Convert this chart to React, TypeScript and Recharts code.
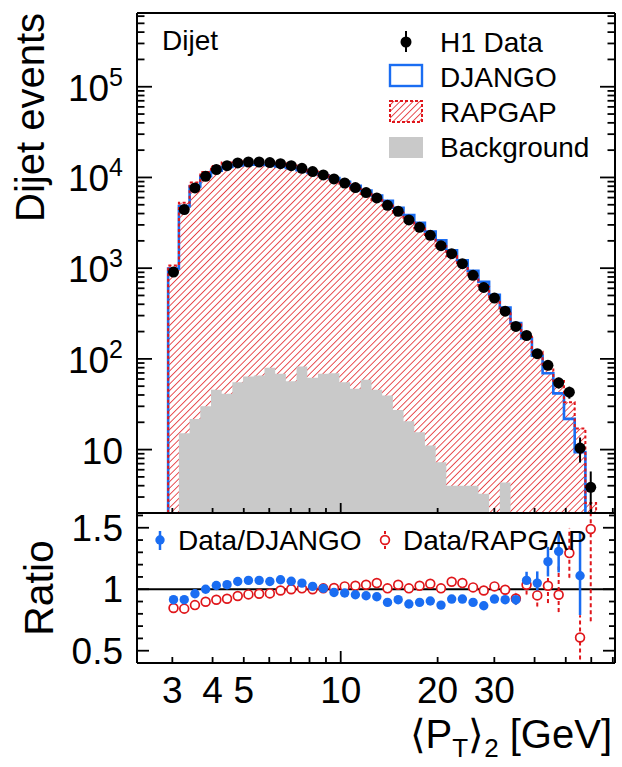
import React from 'react';
import {
  ComposedChart, Area, Line, Scatter, XAxis, YAxis, ErrorBar, ReferenceLine, Legend
} from 'recharts';

const FONT = '"Liberation Sans", Arial, Helvetica, sans-serif';
const BLUE = '#1a6df2';
const RED = '#e0161b';
const GREY = '#c9c9c9';

// log-spaced bin edges of <P_T>_2 in GeV (40 bins)
const binEdges = [
  2.911, 3.144, 3.394, 3.664, 3.955, 4.269, 4.609, 4.975, 5.371, 5.798,
  6.259, 6.756, 7.294, 7.873, 8.499, 9.175, 9.904, 10.69, 11.54, 12.46,
  13.45, 14.52, 15.67, 16.92, 18.26, 19.72, 21.28, 22.98, 24.80, 26.77,
  28.90, 31.20, 33.68, 36.36, 39.25, 42.37, 45.74, 49.37, 53.30, 57.53, 62.11,
];

// H1 data (events per bin) and its uncertainty
const h1Data = [
  906, 4420, 7660, 10300, 12200, 13500, 14450, 14800, 14800, 14600,
  14200, 13500, 12600, 11600, 10650, 9630, 8690, 7740, 6810, 5940,
  4930, 4240, 3400, 2820, 2300, 1770, 1445, 1120, 833, 614,
  468, 336, 228, 181, 114, 85, 54.5, 42.9, 10.4, 3.84,
];
const h1Err = [
  30, 66, 88, 100, 110, 116, 120, 122, 122, 121,
  119, 116, 112, 108, 103, 98, 93, 88, 83, 77,
  70, 65, 58, 53, 48, 42, 38, 33, 29, 25,
  22, 18, 15, 13, 11, 9, 7.5, 6.5, 3.2, 1.9,
];

// MC predictions
const djangoMC = [
  990, 4830, 7950, 10300, 11860, 13040, 13590, 13830, 13830, 13720,
  13200, 12700, 12030, 11350, 10590, 9880, 8970, 8100, 7190, 6330,
  5520, 4630, 3860, 3160, 2540, 2030, 1570, 1220, 933, 709,
  509, 367, 249, 169, 108.6, 69.5, 41.7, 21.8, 9.37, 0,
];
const rapgapMC = [
  1070, 5250, 8790, 11480, 13360, 14650, 15290, 15480, 15400, 15100,
  14360, 13520, 12540, 11610, 10590, 9530, 8500, 7530, 6570, 5660,
  4900, 4090, 3370, 2740, 2200, 1760, 1360, 1070, 821, 620,
  457, 337, 246, 175, 120, 82.8, 57.1, 33.2, 17.1, 2.58,
];
const backgroundMC = [
  0, 15.1, 21.8, 30.1, 45.6, 41.2, 55.3, 64, 65.6, 79.8,
  68.5, 56.8, 82.5, 61.8, 68.5, 69.5, 55.3, 46.8, 58.8, 45.6,
  39.5, 27.4, 20.5, 15.5, 11.1, 7.24, 4.0, 4.0, 4.0, 3.25,
  0, 4.35, 0, 0, 0, 0, 0, 0, 0, 0,
];

// ratios (null = outside the ratio window / no prediction)
const ratioDjango = [
  0.915, 0.915, 0.963, 1.0, 1.03, 1.037, 1.063, 1.072, 1.072, 1.063,
  1.077, 1.065, 1.05, 1.023, 1.007, 0.974, 0.969, 0.955, 0.947, 0.939,
  0.893, 0.915, 0.88, 0.893, 0.904, 0.871, 0.92, 0.92, 0.893, 0.866,
  0.92, 0.915, 0.915, 1.072, 1.05, 1.224, 1.307, null, 1.11, null,
];
const ratioDjangoErr = [
  [0.01, 0.01], [0.01, 0.01], [0.01, 0.01], [0.01, 0.01], [0.01, 0.01],
  [0.01, 0.01], [0.01, 0.01], [0.01, 0.01], [0.01, 0.01], [0.01, 0.01],
  [0.01, 0.01], [0.01, 0.01], [0.01, 0.01], [0.01, 0.01], [0.01, 0.01],
  [0.01, 0.01], [0.01, 0.01], [0.01, 0.01], [0.01, 0.01], [0.01, 0.01],
  [0.012, 0.012], [0.012, 0.012], [0.012, 0.012], [0.013, 0.013], [0.014, 0.014],
  [0.015, 0.015], [0.016, 0.016], [0.018, 0.018], [0.02, 0.02], [0.022, 0.022],
  [0.025, 0.025], [0.03, 0.03], [0.04, 0.04], [0.07, 0.07], [0.095, 0.095],
  [0.12, 0.12], [0.17, 0.15], [0, 0], [0.32, 0.35], [0, 0],
];
const ratioRapgap = [
  0.847, 0.842, 0.871, 0.898, 0.915, 0.923, 0.945, 0.958, 0.963, 0.966,
  0.99, 1.0, 1.007, 1.0, 1.007, 1.01, 1.023, 1.028, 1.037, 1.05,
  1.007, 1.037, 1.007, 1.028, 1.045, 1.007, 1.061, 1.05, 1.015, 0.99,
  1.023, 0.996, 0.925, 1.037, 0.95, 1.028, 0.955, 1.294, 0.608, 1.49,
];
const ratioRapgapErr = [
  [0.01, 0.01], [0.01, 0.01], [0.01, 0.01], [0.01, 0.01], [0.01, 0.01],
  [0.01, 0.01], [0.01, 0.01], [0.01, 0.01], [0.01, 0.01], [0.01, 0.01],
  [0.01, 0.01], [0.01, 0.01], [0.01, 0.01], [0.01, 0.01], [0.01, 0.01],
  [0.01, 0.01], [0.01, 0.01], [0.01, 0.01], [0.01, 0.01], [0.01, 0.01],
  [0.012, 0.012], [0.012, 0.012], [0.012, 0.012], [0.013, 0.013], [0.014, 0.014],
  [0.015, 0.015], [0.016, 0.016], [0.018, 0.018], [0.02, 0.02], [0.022, 0.022],
  [0.025, 0.025], [0.03, 0.03], [0.05, 0.05], [0.08, 0.08], [0.09, 0.09],
  [0.14, 0.14], [0.14, 0.23], [0.2, 0.2], [0.18, 0.18], [0.75, 0.42],
];

// axes
const X_DOMAIN: [number, number] = [2.33, 71.1];
const Y_DOMAIN: [number, number] = [2, 6.5e5];
const R_DOMAIN: [number, number] = [0.4, 1.62];
const xTickValues = [3, 4, 5, 6, 7, 8, 9, 10, 20, 30, 40, 50, 60, 70];
const xTickLabels = [3, 4, 5, 10, 20, 30];
const xMajorTicks = [10];
const yDecades = [1, 10, 100, 1000, 10000, 100000];
const yLabelledDecades = [10, 100, 1000, 10000, 100000];
const ratioTickValues = [0.5, 0.6, 0.7, 0.8, 0.9, 1, 1.1, 1.2, 1.3, 1.4, 1.5, 1.6];
const ratioTickLabels = [0.5, 1, 1.5];

const yTickValues: number[] = [];
yDecades.forEach(d => {
  for (let m = 1; m <= 9; m++) {
    const v = m * d;
    if (v >= Y_DOMAIN[0] && v <= Y_DOMAIN[1]) yTickValues.push(v);
  }
});

const near = (list: number[], v: number) => list.some(t => Math.abs(t - v) < 1e-6 * Math.max(1, t));

// empty bins are pushed below the frame and clipped away
const FLOOR = 1;
const binCenters = binEdges.slice(0, -1).map((e, i) => Math.sqrt(e * binEdges[i + 1]));

const histPoints = (vals: number[]) => {
  const pts = [{ x: binEdges[0], y: FLOOR }];
  vals.forEach((v, i) => pts.push({ x: binEdges[i], y: v > 0 ? v : FLOOR }));
  const last = vals[vals.length - 1];
  pts.push({ x: binEdges[vals.length], y: last > 0 ? last : FLOOR });
  pts.push({ x: binEdges[vals.length], y: FLOOR });
  return pts;
};

const djangoHist = histPoints(djangoMC);
const rapgapHist = histPoints(rapgapMC);
const bkgHist = histPoints(backgroundMC);
const dataPoints = h1Data.map((y, i) => ({ x: binCenters[i], y, err: h1Err[i] }));

const ratioPoints = (vals: (number | null)[], errs: number[][]) =>
  vals
    .map((y, i) => ({ x: binCenters[i], y, err: errs[i] }))
    .filter(p => p.y !== null);

const djangoRatioPts = ratioPoints(ratioDjango, ratioDjangoErr);
const rapgapRatioPts = ratioPoints(ratioRapgap, ratioRapgapErr);

// ROOT-like inward ticks, drawn from the axis' own tick positions
type TickCfg = {
  side: 'left' | 'right' | 'bottom';
  isMajor: (v: number) => boolean;
  majorLen: number;
  minorLen: number;
  label?: (v: number, x: number, y: number) => React.ReactNode;
};

const makeTick = (cfg: TickCfg) => (props: any) => {
  const { x, y, payload } = props;
  const v = payload.value;
  const len = cfg.isMajor(v) ? cfg.majorLen : cfg.minorLen;
  let x2 = x, y2 = y;
  if (cfg.side === 'left') x2 = x + len;
  else if (cfg.side === 'right') x2 = x - len;
  else y2 = y - len;
  return (
    <g>
      <line x1={x} y1={y} x2={x2} y2={y2} stroke="#000" strokeWidth={1.8} />
      {cfg.label ? cfg.label(v, x, y) : null}
    </g>
  );
};

const logLabel = (v: number, x: number, y: number) => {
  if (!near(yLabelledDecades, v)) return null;
  const n = Math.round(Math.log10(v));
  return (
    <text x={x - 14} y={y + 14} textAnchor="end" fontSize={37} fontFamily={FONT} fill="#000">
      10{n > 1 && <tspan fontSize={25} dy={-15}>{n}</tspan>}
    </text>
  );
};

const ratioLabel = (v: number, x: number, y: number) =>
  near(ratioTickLabels, v) ? (
    <text x={x - 14} y={y + 13} textAnchor="end" fontSize={37} fontFamily={FONT} fill="#000">{v}</text>
  ) : null;

const xLabel = (v: number, x: number, y: number) =>
  near(xTickLabels, v) ? (
    <text x={x} y={y + 40} textAnchor="middle" fontSize={37} fontFamily={FONT} fill="#000">{v}</text>
  ) : null;

const isDecade = (v: number) => Math.abs(Math.log10(v) - Math.round(Math.log10(v))) < 1e-9;

const frame = { stroke: '#000', strokeWidth: 2 };

const blackDot = (p: any) => <circle cx={p.cx} cy={p.cy} r={5.5} fill="#000" />;
const blueDot = (p: any) => <circle cx={p.cx} cy={p.cy} r={4.7} fill={BLUE} />;
const redRing = (p: any) => <circle cx={p.cx} cy={p.cy} r={4.4} fill="#fff" stroke={RED} strokeWidth={1.7} />;

const TopLegend = () => (
  <svg width={622} height={514} style={{ display: 'block' }}>
    <g fontFamily={FONT} fontSize={28} fill="#000">
      <text x={162} y={50}>Dijet</text>
      <line x1={406} y1={31} x2={406} y2={52} stroke="#000" strokeWidth={2} />
      <circle cx={406} cy={42} r={5.5} fill="#000" />
      <text x={440} y={52}>H1 Data</text>
      <rect x={390} y={65} width={32} height={21} fill="none" stroke={BLUE} strokeWidth={2.4} />
      <text x={440} y={87}>DJANGO</text>
      <rect x={390} y={101} width={32} height={21} fill="url(#rapHatch)" stroke={RED} strokeWidth={2} strokeDasharray="3 2" />
      <text x={440} y={122}>RAPGAP</text>
      <rect x={389} y={137} width={34} height={21} fill={GREY} />
      <text x={440} y={157}>Background</text>
    </g>
  </svg>
);

const RatioLegend = () => (
  <svg width={622} height={264} style={{ display: 'block' }}>
    <g fontFamily={FONT} fontSize={28} fill="#000">
      <line x1={160} y1={28} x2={160} y2={47} stroke={BLUE} strokeWidth={2.5} />
      <circle cx={160} cy={37} r={4.7} fill={BLUE} />
      <text x={178} y={47}>Data/DJANGO</text>
      <line x1={385} y1={28} x2={385} y2={47} stroke={RED} strokeWidth={2} strokeDasharray="3 2" />
      <circle cx={385} cy={37} r={4.4} fill="#fff" stroke={RED} strokeWidth={1.7} />
      <text x={403} y={47}>Data/RAPGAP</text>
    </g>
  </svg>
);

// frame axes need a non-zero size, otherwise Recharts skips drawing them
const TopChart = () => (
  <ComposedChart width={622} height={514} margin={{ top: 12, right: 6, bottom: 0, left: 0 }}>
    <defs>
      <pattern id="rapHatch" patternUnits="userSpaceOnUse" width={4.6} height={4.6} patternTransform="rotate(45)">
        <line x1={0} y1={0} x2={0} y2={4.6} stroke={RED} strokeWidth={1.5} />
      </pattern>
    </defs>
    <XAxis
      xAxisId="b" dataKey="x" type="number" scale="log" domain={X_DOMAIN} allowDataOverflow
      ticks={xTickValues} interval={0} height={1} tickSize={0} tickMargin={0} tickLine={false}
      axisLine={frame}
      tick={makeTick({ side: 'bottom', isMajor: v => near(xMajorTicks, v), majorLen: 10, minorLen: 5 })}
    />
    <XAxis
      xAxisId="t" orientation="top" dataKey="x" type="number" scale="log" domain={X_DOMAIN}
      allowDataOverflow height={1} tick={false} tickLine={false} axisLine={frame}
    />
    <YAxis
      yAxisId="l" type="number" scale="log" domain={Y_DOMAIN} allowDataOverflow width={137}
      ticks={yTickValues} interval={0} tickSize={0} tickMargin={0} tickLine={false} axisLine={frame}
      tick={makeTick({ side: 'left', isMajor: isDecade, majorLen: 15, minorLen: 7.5, label: logLabel })}
      label={{
        content: (p: any) => (
          <text
            x={44} y={p.viewBox.y} transform={`rotate(-90 44 ${p.viewBox.y})`}
            textAnchor="end" fontSize={40} fontFamily={FONT} fill="#000"
          >Dijet events</text>
        ),
      }}
    />
    <YAxis
      yAxisId="r" orientation="right" type="number" scale="log" domain={Y_DOMAIN} allowDataOverflow
      width={1} ticks={yTickValues} interval={0} tickSize={0} tickMargin={0} tickLine={false} axisLine={frame}
      tick={makeTick({ side: 'right', isMajor: isDecade, majorLen: 15, minorLen: 7.5 })}
    />
    <Area
      data={rapgapHist} dataKey="y" type="stepAfter" xAxisId="b" yAxisId="l"
      baseValue={Y_DOMAIN[0]} stroke="none" fill="url(#rapHatch)" fillOpacity={1}
      dot={false} activeDot={false} isAnimationActive={false}
    />
    <Area
      data={bkgHist} dataKey="y" type="stepAfter" xAxisId="b" yAxisId="l"
      baseValue={Y_DOMAIN[0]} stroke="none" fill={GREY} fillOpacity={1}
      dot={false} activeDot={false} isAnimationActive={false}
    />
    <Line
      data={djangoHist} dataKey="y" type="stepAfter" xAxisId="b" yAxisId="l"
      stroke={BLUE} strokeWidth={2.6} dot={false} activeDot={false} isAnimationActive={false}
    />
    <Line
      data={rapgapHist} dataKey="y" type="stepAfter" xAxisId="b" yAxisId="l"
      stroke={RED} strokeWidth={2} strokeDasharray="3 2.5" dot={false} activeDot={false} isAnimationActive={false}
    />
    {/* invisible copy so the top and right frame axes get registered */}
    <Line
      data={dataPoints} dataKey="y" xAxisId="t" yAxisId="r" stroke="none"
      dot={false} activeDot={false} legendType="none" isAnimationActive={false}
    />
    <Scatter data={dataPoints} dataKey="y" xAxisId="b" yAxisId="l" shape={blackDot} isAnimationActive={false}>
      <ErrorBar dataKey="err" direction="y" width={0} stroke="#000" strokeWidth={2} />
    </Scatter>
    <Legend
      layout="horizontal" verticalAlign="middle" align="center"
      wrapperStyle={{ left: 0, top: 0, width: 622, height: 514 }}
      content={() => <TopLegend />}
    />
  </ComposedChart>
);

const RatioChart = () => (
  <ComposedChart width={622} height={264} margin={{ top: 9, right: 6, bottom: 0, left: 0 }}>
    <XAxis
      xAxisId="b" dataKey="x" type="number" scale="log" domain={X_DOMAIN} allowDataOverflow
      ticks={xTickValues} interval={0} height={104} tickSize={0} tickMargin={0} tickLine={false}
      axisLine={frame}
      tick={makeTick({ side: 'bottom', isMajor: v => near(xMajorTicks, v), majorLen: 12, minorLen: 6, label: xLabel })}
      label={{
        content: (p: any) => {
          const vb = p.viewBox;
          return (
            <text x={vb.x + vb.width - 3} y={vb.y + 85} textAnchor="end" fontSize={40} fontFamily={FONT} fill="#000">
              {'\u27E8P'}
              <tspan fontSize={26} dy={9}>T</tspan>
              <tspan dy={-9}>{'\u27E9'}</tspan>
              <tspan fontSize={26} dy={9}>2</tspan>
              <tspan dy={-9}> [GeV]</tspan>
            </text>
          );
        },
      }}
    />
    <XAxis
      xAxisId="t" orientation="top" dataKey="x" type="number" scale="log" domain={X_DOMAIN}
      allowDataOverflow height={1} tick={false} tickLine={false} axisLine={frame}
    />
    <YAxis
      yAxisId="l" type="number" domain={R_DOMAIN} allowDataOverflow width={137}
      ticks={ratioTickValues} interval={0} tickSize={0} tickMargin={0} tickLine={false} axisLine={frame}
      tick={makeTick({ side: 'left', isMajor: v => near(ratioTickLabels, v), majorLen: 12, minorLen: 6, label: ratioLabel })}
      label={{
        content: (p: any) => {
          const cy = p.viewBox.y + p.viewBox.height / 2;
          return (
            <text
              x={53} y={cy} transform={`rotate(-90 53 ${cy})`}
              textAnchor="middle" fontSize={41} fontFamily={FONT} fill="#000"
            >Ratio</text>
          );
        },
      }}
    />
    <YAxis
      yAxisId="r" orientation="right" type="number" domain={R_DOMAIN} allowDataOverflow width={1}
      ticks={ratioTickValues} interval={0} tickSize={0} tickMargin={0} tickLine={false} axisLine={frame}
      tick={makeTick({ side: 'right', isMajor: v => near(ratioTickLabels, v), majorLen: 12, minorLen: 6 })}
    />
    <ReferenceLine y={1} xAxisId="b" yAxisId="l" stroke="#000" strokeWidth={2} />
    {/* invisible copy so the top and right frame axes get registered */}
    <Line
      data={rapgapRatioPts} dataKey="y" xAxisId="t" yAxisId="r" stroke="none"
      dot={false} activeDot={false} legendType="none" isAnimationActive={false}
    />
    <Scatter data={rapgapRatioPts} dataKey="y" xAxisId="b" yAxisId="l" shape={redRing} isAnimationActive={false}>
      <ErrorBar dataKey="err" direction="y" width={0} stroke={RED} strokeWidth={2} strokeDasharray="4 3" />
    </Scatter>
    <Scatter data={djangoRatioPts} dataKey="y" xAxisId="b" yAxisId="l" shape={blueDot} isAnimationActive={false}>
      <ErrorBar dataKey="err" direction="y" width={0} stroke={BLUE} strokeWidth={2.5} />
    </Scatter>
    <Legend
      layout="horizontal" verticalAlign="middle" align="center"
      wrapperStyle={{ left: 0, top: 0, width: 622, height: 264 }}
      content={() => <RatioLegend />}
    />
  </ComposedChart>
);

export default function App() {
  return (
    <div style={{ position: 'absolute', left: 0, top: 0, width: 622, height: 767, background: '#fff', fontFamily: FONT }}>
      <div style={{ position: 'absolute', left: 0, top: 0 }}>
        <TopChart />
      </div>
      <div style={{ position: 'absolute', left: 0, top: 503 }}>
        <RatioChart />
      </div>
    </div>
  );
}
